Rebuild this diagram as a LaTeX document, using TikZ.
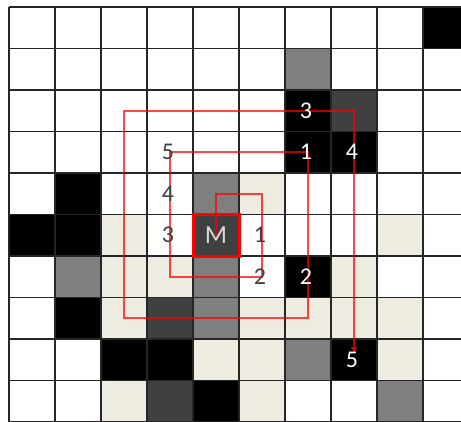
\documentclass[tikz,border=0pt]{standalone}
\usepackage{fontspec}
\setmainfont{Carlito}
\usetikzlibrary{arrows.meta}

\definecolor{cellgray}{HTML}{7F7F7F}
\definecolor{celldark}{HTML}{404040}
\definecolor{cellbeige}{HTML}{EEECE1}

\begin{document}
\begin{tikzpicture}[x=46pt,y=41.5pt,
    gridline/.style={line width=1.2pt,black!85},
    spiral/.style={red,line width=1.6pt,opacity=0.72},
    lab/.style={font=\fontsize{24}{24}\selectfont,text=celldark,inner sep=0pt,xshift=-2pt},
    labw/.style={lab,text=white},
    mcell/.style={draw=red,line width=3pt,minimum width=46pt,minimum height=41.5pt,
      font=\fontsize{26}{26}\selectfont,text=black!15}]
    \clip (-0.196,0.169) rectangle (9.826,-9.98);
    \fill[white] (-1,1) rectangle (11,-11);

    % Cell fills
    \foreach \x/\y in {9/0,6/2,6/3,7/3,1/4,0/5,1/5,6/6,1/7,2/8,3/8,7/8,4/9}
        \fill[black] (\x,-\y) rectangle ++(1,-1);
    \foreach \x/\y in {6/1,4/4,1/6,4/6,4/7,6/8,8/9}
        \fill[cellgray] (\x,-\y) rectangle ++(1,-1);
    \foreach \x/\y in {7/2,4/5,3/7,3/9}
        \fill[celldark] (\x,-\y) rectangle ++(1,-1);
    \foreach \x/\y in {5/4,2/5,8/5,2/6,3/6,7/6,2/7,5/7,6/7,7/7,8/7,4/8,5/8,8/8,2/9,5/9}
        \fill[cellbeige] (\x,-\y) rectangle ++(1,-1);

    % Grid lines
    \foreach \i in {0,...,10} {
        \draw[gridline] (\i,0) -- (\i,-10);
        \draw[gridline] (0,-\i) -- (10,-\i);
    }

    % Cell centres
    \foreach \x in {0,...,9}
        \foreach \y in {0,...,9}
            \coordinate (c\x\y) at (\x+0.5,-\y-0.5);

    % Spiral search path
    \draw[spiral,-{Triangle[length=6pt,width=6pt]},shorten >=7pt]
        (c45) -- (c44) -- (c54) -- (c56) -- (c36) -- (c33) -- (c63)
        -- (c67) -- (c27) -- (c22) -- (c72) -- (c78);

    % Centre cell
    \node[mcell] (m) at (c45) {M};

    % Neighbour labels
    \node[lab] (a5) at (c33) {5};
    \node[lab] (a4) at (c34) {4};
    \node[lab] (a3) at (c35) {3};
    \node[lab] (a1) at (c55) {1};
    \node[lab] (a2) at (c56) {2};
    \node[labw] (b3) at (c62) {3};
    \node[labw] (b1) at (c63) {1};
    \node[labw] (b4) at (c73) {4};
    \node[labw] (b2) at (c66) {2};
    \node[labw] (b5) at (c78) {5};
\end{tikzpicture}
\end{document}
